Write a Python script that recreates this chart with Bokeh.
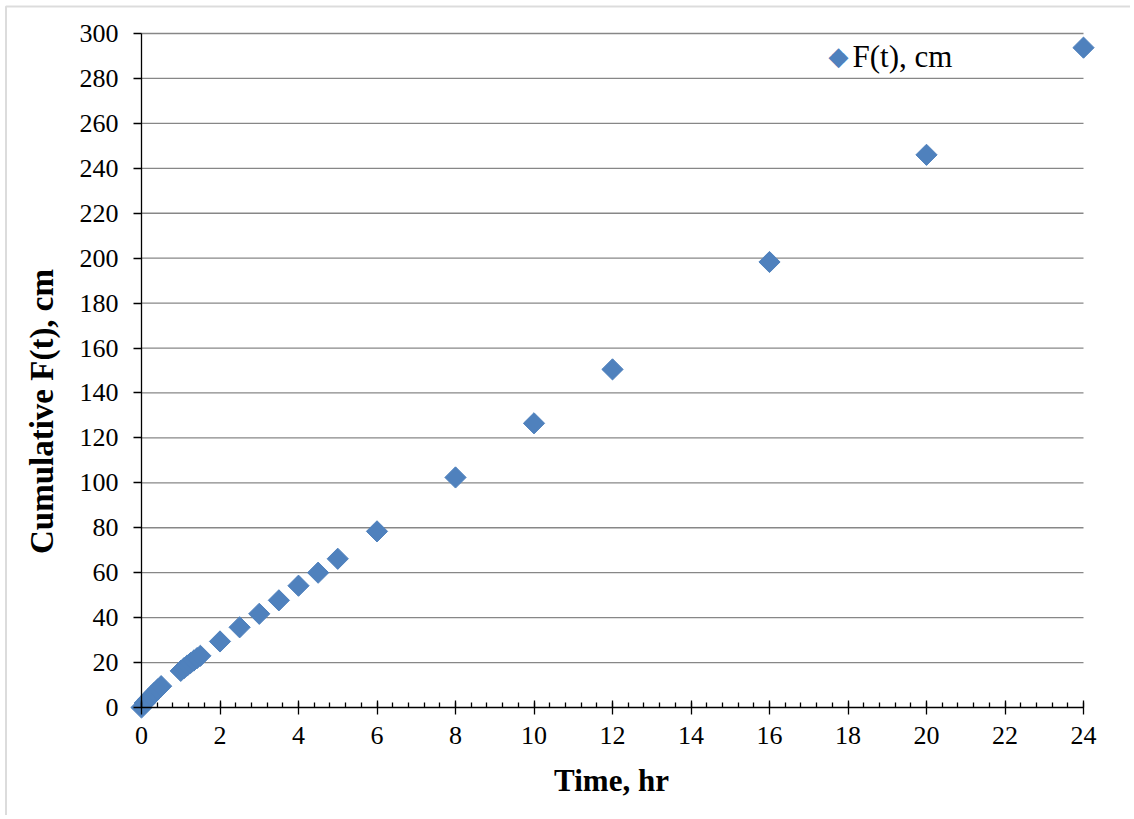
import math
from bokeh.plotting import figure
from bokeh.models import FixedTicker, Range1d, Label, BoxAnnotation
from bokeh.embed import file_html
from bokeh.resources import INLINE

# Data
time_hr = [0, 0.083, 0.167, 0.25, 0.333, 0.417, 0.5,
           1.0, 1.083, 1.167, 1.25, 1.333, 1.417, 1.5,
           2, 2.5, 3, 3.5, 4, 4.5, 5, 6, 8, 10, 12, 16, 20, 24]
f_cm = [0, 2.0, 3.6, 5.1, 6.6, 8.1, 9.5,
        16.3, 17.5, 18.7, 19.8, 20.9, 22.0, 23.0,
        29.4, 35.7, 41.7, 47.7, 54.2, 60.0, 66.2, 78.4, 102.4, 126.5, 150.5, 198.3, 246.0, 293.7]
x_ticks = list(range(0, 25, 2))
y_ticks = list(range(0, 301, 20))
series_name = "F(t), cm"
x_title = "Time, hr"
y_title = "Cumulative F(t), cm"

FONT = "Liberation Serif"
BLUE = "#4F81BD"

# layout: the plot frame fills the canvas; axes are drawn at x=0 / y=0 inside it
W, H = 1130, 815
AX_LEFT, AX_RIGHT, AX_TOP, AX_BOTTOM = 141.0, 1083.0, 33.0, 707.0   # pixel extent of the axes box
sx = (AX_RIGHT - AX_LEFT) / (x_ticks[-1] - x_ticks[0])
sy = (AX_BOTTOM - AX_TOP) / (y_ticks[-1] - y_ticks[0])
x_range = Range1d(x_ticks[0] - AX_LEFT / sx, x_ticks[-1] + (W - AX_RIGHT) / sx)
y_range = Range1d(y_ticks[0] - (H - AX_BOTTOM) / sy, y_ticks[-1] + AX_TOP / sy)

p = figure(width=W, height=H, output_backend="svg", toolbar_location=None,
           x_range=x_range, y_range=y_range,
           min_border_left=0, min_border_right=0, min_border_top=0, min_border_bottom=0)
p.outline_line_color = None
p.background_fill_color = "white"
p.border_fill_color = "white"

# horizontal gridlines, limited to the axis extent
p.xgrid.visible = False
p.ygrid.visible = False
p.segment(x0=[x_ticks[0]] * len(y_ticks[1:]), x1=[x_ticks[-1]] * len(y_ticks[1:]),
          y0=y_ticks[1:], y1=y_ticks[1:], line_color="#878787", line_width=1.3)

r = p.scatter(time_hr, f_cm, marker="square", angle=math.pi / 4, size=15,
              fill_color=BLUE, line_color=BLUE, line_width=1)

# x axis (drawn at y = 0)
xa = p.xaxis[0]
xa.fixed_location = 0
xa.bounds = (x_ticks[0], x_ticks[-1])
xa.ticker = FixedTicker(ticks=x_ticks, minor_ticks=[i * 0.4 for i in range(61)])
xa.axis_line_color = "black"
xa.axis_line_width = 1.3
xa.major_tick_in = 7
xa.major_tick_out = 7
xa.major_tick_line_width = 1.3
xa.minor_tick_in = 5
xa.minor_tick_out = 0
xa.minor_tick_line_width = 1.3
xa.major_label_text_font = FONT
xa.major_label_text_font_size = "26px"
xa.major_label_text_color = "black"
xa.major_label_standoff = 12

# y axis (drawn at x = 0)
ya = p.yaxis[0]
ya.fixed_location = 0
ya.bounds = (y_ticks[0], y_ticks[-1])
ya.ticker = FixedTicker(ticks=y_ticks, minor_ticks=[])
ya.axis_line_color = "black"
ya.axis_line_width = 1.3
ya.major_tick_in = 0
ya.major_tick_out = 8
ya.major_tick_line_width = 1.3
ya.minor_tick_in = 0
ya.minor_tick_out = 0
ya.major_label_text_font = FONT
ya.major_label_text_font_size = "26px"
ya.major_label_text_color = "black"
ya.major_label_standoff = 15

# axis titles (screen units, measured from the frame's bottom-left corner)
p.add_layout(Label(x=611, y=H - 780, x_units="screen", y_units="screen", text=x_title,
                   text_font=FONT, text_font_size="31px", text_font_style="bold",
                   text_color="black", text_align="center", text_baseline="middle"))
p.add_layout(Label(x=41, y=H - 411, x_units="screen", y_units="screen", text=y_title,
                   angle=math.pi / 2,
                   text_font=FONT, text_font_size="33px", text_font_style="bold",
                   text_color="black", text_align="center", text_baseline="middle"))

# legend (diamond symbol + series name)
p.add_layout(Label(x=838, y=H - 55.2, x_units="screen", y_units="screen", text="\u25c6",
                   text_font="DejaVu Sans", text_font_size="26px", text_color=BLUE,
                   text_align="center", text_baseline="middle"))
p.add_layout(Label(x=852, y=H - 56.2, x_units="screen", y_units="screen", text=series_name,
                   text_font=FONT, text_font_size="31px", text_color="black",
                   text_align="left", text_baseline="alphabetic"))

# outer chart border
p.add_layout(BoxAnnotation(left=5.5, right=W + 20, top=H - 6, bottom=-20,
                           left_units="screen", right_units="screen",
                           top_units="screen", bottom_units="screen",
                           fill_alpha=0, line_color="#8c8c8c", line_width=2))

open("out.html", "w").write(file_html(p, INLINE))
